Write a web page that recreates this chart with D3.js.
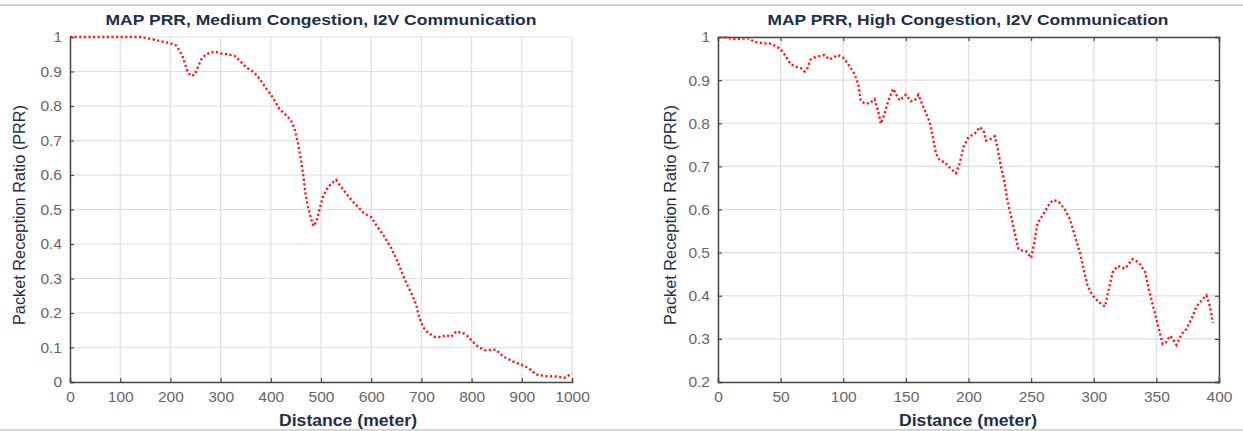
<!DOCTYPE html>
<html>
<head>
<meta charset="utf-8">
<script src="https://cdn.jsdelivr.net/npm/d3@7"></script>
<style>
  body { margin: 0; background: #fff; }
  svg { display: block; }
</style>
</head>
<body>
<script>
// medium congestion: distance (m) and PRR
var medDist = [0, 50, 100, 140, 160, 180, 200, 212, 224, 234, 240, 248, 254, 261, 271, 288, 301, 314, 327, 337,
  351, 367, 377, 393, 403, 417, 430, 440, 447, 454, 460, 465, 469, 474, 480, 485, 491, 497, 504, 514,
  523, 530, 537, 550, 560, 574, 584, 600, 610, 624, 640, 654, 667, 680, 690, 695, 703, 713, 726, 739,
  749, 759, 769, 782, 792, 802, 815, 828, 848, 862, 882, 902, 915, 928, 948, 968, 985, 1000];
var medPrr = [1, 1, 1, 1, 0.995, 0.988, 0.982, 0.975, 0.946, 0.9, 0.888, 0.89, 0.91, 0.934, 0.95, 0.958, 0.952, 0.95, 0.946, 0.933,
  0.912, 0.897, 0.88, 0.846, 0.827, 0.792, 0.774, 0.759, 0.736, 0.692, 0.645, 0.595, 0.547, 0.508, 0.474, 0.452, 0.465, 0.5, 0.538, 0.565,
  0.578, 0.586, 0.571, 0.547, 0.528, 0.508, 0.491, 0.478, 0.455, 0.426, 0.388, 0.344, 0.296, 0.257, 0.223, 0.19, 0.16, 0.143, 0.131, 0.13,
  0.136, 0.131, 0.146, 0.143, 0.133, 0.117, 0.1, 0.092, 0.094, 0.075, 0.06, 0.048, 0.039, 0.022, 0.017, 0.016, 0.012, 0.025];

// high congestion: right panel
var highDist = [5, 13, 24, 29, 37, 41, 46, 50, 54, 58, 62, 66, 69, 71, 74, 78, 85, 89, 93, 96,
  100, 104, 109, 112, 114, 117, 121, 125, 128, 130, 133, 136, 140, 142, 145, 150, 154, 157, 160, 164,
  168, 170, 172, 174, 177, 181, 185, 190, 193, 196, 200, 205, 209, 212, 214, 218, 221, 223, 226, 229,
  231, 234, 237, 240, 246, 250, 253, 255, 261, 265, 268, 272, 277, 281, 285, 289, 292, 295, 299, 304,
  309, 312, 315, 319, 325, 331, 336, 341, 344, 348, 352, 355, 358, 361, 363, 366, 370, 374, 378, 382,
  387, 390, 393, 395];
var highPrr = [1, 0.995, 0.997, 0.989, 0.985, 0.985, 0.979, 0.972, 0.956, 0.937, 0.931, 0.928, 0.92, 0.925, 0.948, 0.954, 0.958, 0.948, 0.954, 0.958,
  0.952, 0.937, 0.914, 0.89, 0.852, 0.846, 0.846, 0.856, 0.826, 0.799, 0.822, 0.853, 0.88, 0.868, 0.853, 0.866, 0.851, 0.853, 0.866, 0.837,
  0.81, 0.791, 0.76, 0.73, 0.714, 0.71, 0.697, 0.684, 0.707, 0.745, 0.768, 0.776, 0.791, 0.783, 0.76, 0.764, 0.77, 0.745, 0.699, 0.66,
  0.622, 0.584, 0.545, 0.507, 0.503, 0.488, 0.53, 0.568, 0.595, 0.615, 0.622, 0.618, 0.6, 0.577, 0.538, 0.5, 0.461, 0.423, 0.401, 0.385,
  0.375, 0.415, 0.454, 0.469, 0.463, 0.485, 0.477, 0.455, 0.415, 0.369, 0.323, 0.288, 0.293, 0.307, 0.3, 0.286, 0.311, 0.323, 0.346, 0.375,
  0.392, 0.401, 0.373, 0.337];

var medXTicks = [0, 100, 200, 300, 400, 500, 600, 700, 800, 900, 1000];
var medYTicks = [0, 0.1, 0.2, 0.3, 0.4, 0.5, 0.6, 0.7, 0.8, 0.9, 1];
var highXTicks = [0, 50, 100, 150, 200, 250, 300, 350, 400];
var highYTicks = [0.2, 0.3, 0.4, 0.5, 0.6, 0.7, 0.8, 0.9, 1];

var W = 1243, H = 431;
var navy = "#1d2f4b", tickGray = "#666666";

var svg = d3.select("body").append("svg")
    .attr("width", W)
    .attr("height", H);

// grey separator lines top and bottom of the screenshot
svg.append("rect").attr("x", 0).attr("y", 4).attr("width", W).attr("height", 2).attr("fill", "#cfcfcf");
svg.append("rect").attr("x", 0).attr("y", 429).attr("width", W).attr("height", 2).attr("fill", "#d6d6d6");

function panel(opt) {
    var x = d3.scaleLinear().domain(opt.xDomain).range([opt.left, opt.right]);
    var y = d3.scaleLinear().domain(opt.yDomain).range([opt.bottom, opt.top]);
    var g = svg.append("g");

    // grid
    g.append("g").selectAll("line").data(opt.xTicks).enter().append("line")
        .attr("x1", function(d) { return x(d); }).attr("x2", function(d) { return x(d); })
        .attr("y1", opt.top).attr("y2", opt.bottom)
        .attr("stroke", "#dedede").attr("stroke-width", 1.2);
    g.append("g").selectAll("line").data(opt.yTicks).enter().append("line")
        .attr("y1", function(d) { return y(d); }).attr("y2", function(d) { return y(d); })
        .attr("x1", opt.left).attr("x2", opt.right)
        .attr("stroke", "#dedede").attr("stroke-width", 1.2);

    // axes, ticks pointing inward like matlab
    var xAxis = d3.axisBottom(x).tickValues(opt.xTicks).tickSize(-4).tickPadding(9)
        .tickFormat(d3.format("d"));
    var yAxis = d3.axisLeft(y).tickValues(opt.yTicks).tickSize(-4).tickPadding(8)
        .tickFormat(function(d) { return d === 0 || d === 1 ? String(d) : d3.format(".1f")(d); });

    g.append("g").attr("transform", "translate(0," + opt.bottom + ")").call(xAxis);
    g.append("g").attr("transform", "translate(" + opt.left + ",0)").call(yAxis);

    if (opt.box) {
        g.append("g").attr("transform", "translate(0," + opt.top + ")")
            .call(d3.axisTop(x).tickValues(opt.xTicks).tickSize(-4).tickFormat(""));
        g.append("g").attr("transform", "translate(" + opt.right + ",0)")
            .call(d3.axisRight(y).tickValues(opt.yTicks).tickSize(-4).tickFormat(""));
    }

    g.selectAll(".domain").attr("stroke", "#4a4a4a").attr("stroke-width", 1.5);
    g.selectAll(".tick line").attr("stroke", "#4a4a4a").attr("stroke-width", 1.2);
    g.selectAll(".tick text")
        .attr("fill", tickGray)
        .attr("font-size", null)
        .style("font-family", "'Liberation Sans', Arial, sans-serif")
        .style("font-size", "15.5px");

    // the curve
    var line = d3.line()
        .x(function(d) { return x(d[0]); })
        .y(function(d) { return y(d[1]); });
    g.append("path")
        .datum(d3.zip(opt.dist, opt.prr))
        .attr("d", line)
        .attr("fill", "none")
        .attr("stroke", "#ff1a1a")
        .attr("stroke-width", 2.4)
        .attr("stroke-dasharray", "2.2,2.4");

    // title and labels
    g.append("text")
        .attr("x", opt.titleX).attr("y", 25)
        .attr("text-anchor", "middle")
        .attr("textLength", opt.titleLen).attr("lengthAdjust", "spacingAndGlyphs")
        .attr("fill", navy)
        .style("font-family", "'Liberation Sans', Arial, sans-serif")
        .style("font-size", "15.5px").style("font-weight", "bold")
        .text(opt.title);

    g.append("text")
        .attr("x", opt.xLabelX).attr("y", 426)
        .attr("text-anchor", "middle")
        .attr("textLength", 138).attr("lengthAdjust", "spacingAndGlyphs")
        .attr("fill", navy)
        .style("font-family", "'Liberation Sans', Arial, sans-serif")
        .style("font-size", "16.5px").style("font-weight", "bold")
        .text("Distance (meter)");

    g.append("text")
        .attr("transform", "translate(" + opt.yLabelX + ",215) rotate(-90)")
        .attr("text-anchor", "middle")
        .attr("textLength", 220).attr("lengthAdjust", "spacingAndGlyphs")
        .attr("fill", navy)
        .style("font-family", "'Liberation Sans', Arial, sans-serif")
        .style("font-size", "16px")
        .text("Packet Reception Ratio (PRR)");
}

panel({
    left: 70, right: 572, top: 37, bottom: 382,
    xDomain: [0, 1000], yDomain: [0, 1],
    xTicks: medXTicks, yTicks: medYTicks,
    dist: medDist, prr: medPrr, box: false,
    title: "MAP PRR, Medium Congestion, I2V Communication",
    titleX: 321, titleLen: 431, xLabelX: 348, yLabelX: 25
});

panel({
    left: 718, right: 1219, top: 37, bottom: 382,
    xDomain: [0, 400], yDomain: [0.2, 1],
    xTicks: highXTicks, yTicks: highYTicks,
    dist: highDist, prr: highPrr, box: true,
    title: "MAP PRR, High Congestion, I2V Communication",
    titleX: 968, titleLen: 401, xLabelX: 968, yLabelX: 676
});
</script>
</body>
</html>
